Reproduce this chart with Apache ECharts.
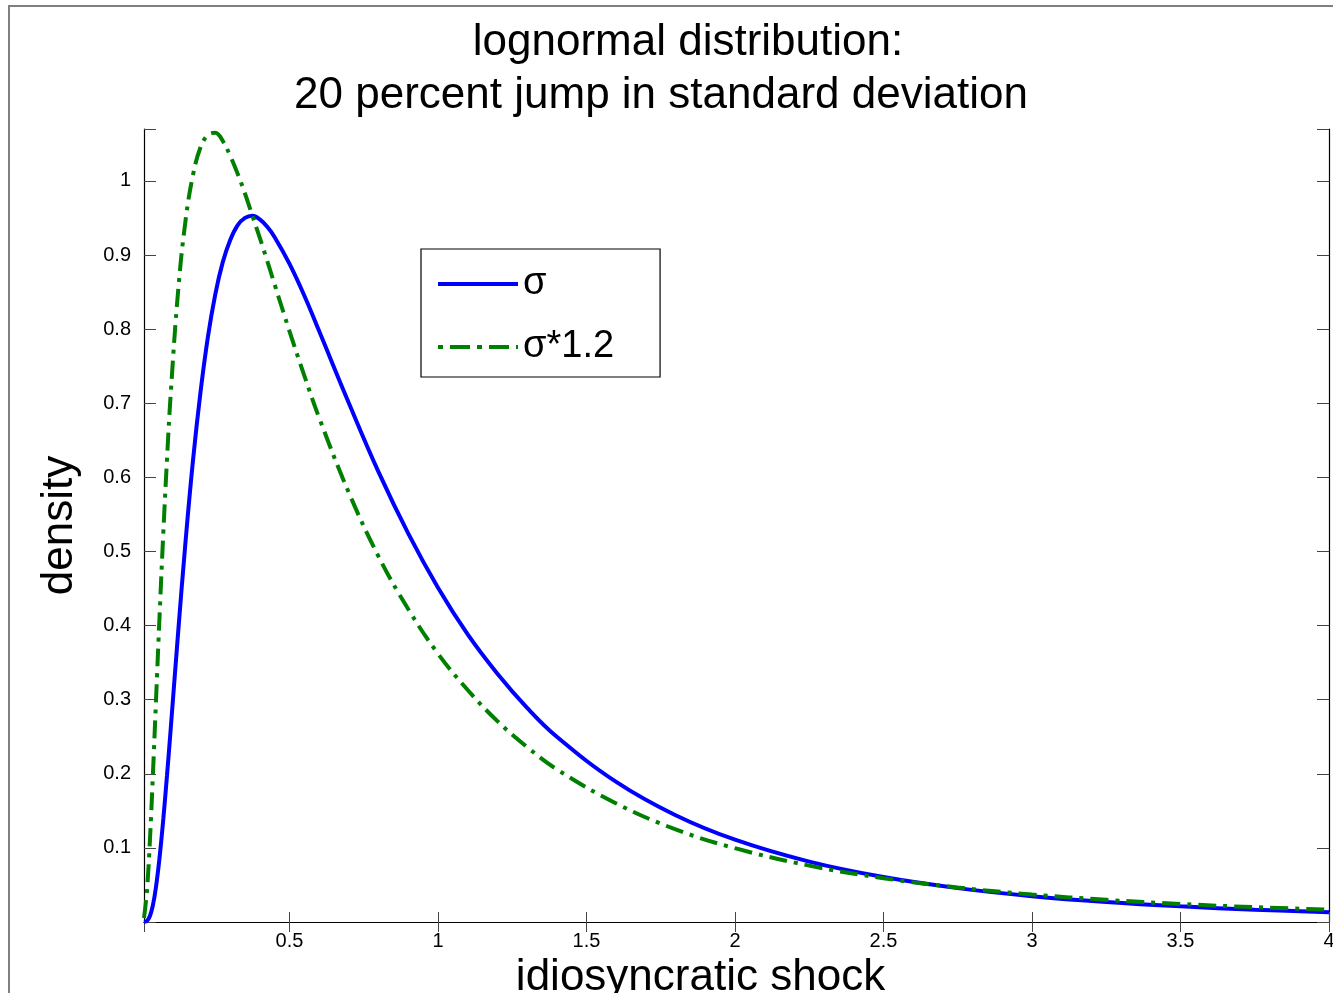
<!DOCTYPE html>
<html>
<head>
<meta charset="utf-8">
<script src="https://cdn.jsdelivr.net/npm/echarts@6/dist/echarts.min.js"></script>
<style>
  html, body { margin: 0; padding: 0; background: #fff; }
  #chart { width: 1333px; height: 993px; }
</style>
</head>
<body>
<div id="chart"></div>
<script>
var shock = [0.01, 0.02, 0.03, 0.04, 0.05, 0.0625, 0.075, 0.0875, 0.1, 0.125, 0.15, 0.175, 0.2, 0.225, 0.25, 0.275, 0.3, 0.325, 0.35, 0.375, 0.4, 0.425, 0.45, 0.5, 0.55, 0.6, 0.7, 0.8, 0.9, 1.0, 1.1, 1.2, 1.3, 1.4, 1.6, 1.8, 2.0, 2.25, 2.5, 2.75, 3.0, 3.25, 3.5, 3.75, 4.0];
var densSigma = [0, 0.0015, 0.0081, 0.0227, 0.0462, 0.0874, 0.139, 0.198, 0.261, 0.391, 0.514, 0.623, 0.714, 0.789, 0.847, 0.890, 0.920, 0.940, 0.950, 0.953, 0.948, 0.938, 0.924, 0.888, 0.845, 0.797, 0.700, 0.607, 0.524, 0.451, 0.388, 0.335, 0.289, 0.250, 0.189, 0.144, 0.111, 0.0814, 0.0606, 0.0457, 0.0349, 0.0270, 0.0211, 0.0166, 0.0132];
var densSigma12 = [0.0054, 0.0423, 0.111, 0.199, 0.295, 0.414, 0.525, 0.625, 0.713, 0.852, 0.947, 1.008, 1.045, 1.062, 1.065, 1.054, 1.034, 1.010, 0.983, 0.953, 0.923, 0.892, 0.860, 0.797, 0.737, 0.680, 0.579, 0.493, 0.422, 0.362, 0.313, 0.271, 0.236, 0.206, 0.160, 0.125, 0.0996, 0.0761, 0.0591, 0.0465, 0.0371, 0.0299, 0.0243, 0.0200, 0.0166];
var seriesNames = ['σ', 'σ*1.2'];
var titleLines = ['lognormal distribution:', '20 percent jump in standard deviation'];

var font = 'Liberation Sans, Arial, Helvetica, sans-serif';
var chart = echarts.init(document.getElementById('chart'));

function pairs(xs, ys) {
    return xs.map(function (x, i) { return [x, ys[i]]; });
}

// hide labels that are not on the 0.1 / 0.5 grid (axis ends)
function gridLabel(step) {
    return function (v) {
        var k = Math.round(v / step);
        if (k === 0 || Math.abs(v - k * step) > 1e-6) return '';
        return String(+(k * step).toFixed(2));
    };
}

var tickLine = { color: '#444', width: 1 };
var axisLine = { color: '#000', width: 1.2 };

chart.setOption({
    animation: false,
    backgroundColor: '#fff',
    graphic: [
        {
            type: 'polyline',
            shape: { points: [[9, 1000], [9, 6], [1340, 6]] },
            style: { stroke: '#808080', lineWidth: 2, fill: null }
        },
        {
            type: 'text', x: 688, y: 43,
            style: { text: titleLines[0], font: '44px ' + font, fill: '#000', align: 'center', verticalAlign: 'middle' }
        },
        {
            type: 'text', x: 661, y: 96,
            style: { text: titleLines[1], font: '44px ' + font, fill: '#000', align: 'center', verticalAlign: 'middle' }
        }
    ],
    grid: {
        left: 144,
        right: 4,
        top: 129,
        bottom: 71,
        containLabel: false,
        outerBoundsMode: 'none'
    },
    legend: {
        orient: 'vertical',
        left: 421,
        top: 249,
        padding: [13, 46, 8, 15],
        itemGap: 19,
        itemWidth: 80,
        itemHeight: 14,
        backgroundColor: '#fff',
        borderColor: '#000',
        borderWidth: 1.2,
        borderRadius: 0,
        itemStyle: { opacity: 0 },
        textStyle: { fontFamily: font, fontSize: 38, color: '#000', lineHeight: 44 },
        data: [
            { name: seriesNames[0], lineStyle: { width: 4 } },
            { name: seriesNames[1], lineStyle: { width: 4, type: [5, 7, 20, 7] } }
        ]
    },
    xAxis: [
        {
            type: 'value',
            min: 0.01,
            max: 4,
            minInterval: 0.5,
            maxInterval: 0.5,
            splitNumber: 8,
            name: 'idiosyncratic shock',
            nameLocation: 'middle',
            nameGap: 32,
            nameTextStyle: { fontFamily: font, fontSize: 44, color: '#000', padding: [0, 72, 0, 0] },
            axisLine: { lineStyle: axisLine },
            axisTick: { inside: true, length: 10, lineStyle: tickLine },
            axisLabel: { fontFamily: font, fontSize: 20, color: '#000', margin: 9, showMinLabel: false, formatter: gridLabel(0.5) },
            splitLine: { show: false }
        },
        {
            type: 'value',
            position: 'top',
            min: 0.01,
            max: 4,
            minInterval: 0.5,
            maxInterval: 0.5,
            splitNumber: 8,
            axisLine: { lineStyle: axisLine },
            axisTick: { inside: true, length: 10, lineStyle: tickLine },
            axisLabel: { show: false },
            splitLine: { show: false }
        }
    ],
    yAxis: [
        {
            type: 'value',
            min: 0,
            max: 1.07,
            interval: 0.1,
            name: 'density',
            nameLocation: 'middle',
            nameRotate: 90,
            nameGap: 62,
            nameTextStyle: { fontFamily: font, fontSize: 44, color: '#000' },
            axisLine: { show: true, lineStyle: axisLine },
            axisTick: { show: true, inside: true, length: 12, lineStyle: tickLine },
            axisLabel: { fontFamily: font, fontSize: 20, color: '#000', margin: 13, formatter: gridLabel(0.1) },
            splitLine: { show: false }
        },
        {
            type: 'value',
            position: 'right',
            min: 0,
            max: 1.07,
            interval: 0.1,
            axisLine: { show: true, lineStyle: axisLine },
            axisTick: { show: true, inside: true, length: 12, lineStyle: tickLine },
            axisLabel: { show: false },
            splitLine: { show: false }
        }
    ],
    series: [
        {
            name: seriesNames[0],
            type: 'line',
            data: pairs(shock, densSigma),
            symbol: 'none',
            smooth: 0.4,
            lineStyle: { color: '#0000ff', width: 4 },
            itemStyle: { color: '#0000ff' },
            z: 3
        },
        {
            name: seriesNames[1],
            type: 'line',
            data: pairs(shock, densSigma12),
            symbol: 'none',
            smooth: 0.4,
            lineStyle: { color: '#007f00', width: 4, type: [18, 7, 4, 7], cap: 'butt' },
            itemStyle: { color: '#007f00' },
            z: 4
        }
    ]
});
</script>
</body>
</html>
